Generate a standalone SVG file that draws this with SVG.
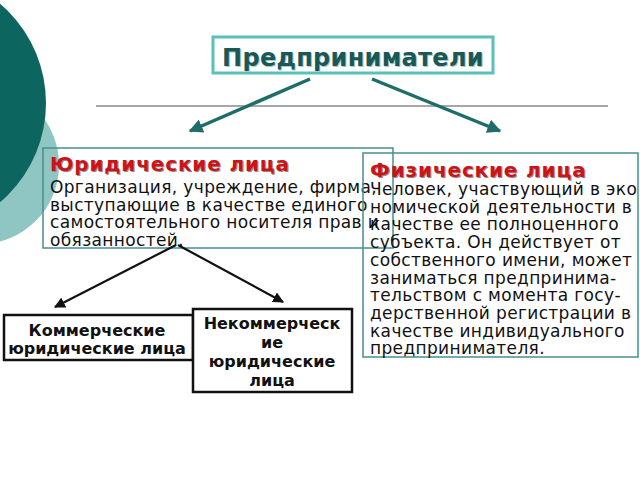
<svg xmlns="http://www.w3.org/2000/svg" width="640" height="480" viewBox="0 0 640 480">
<style>
.body{font-family:"DejaVu Sans",Verdana,sans-serif;font-size:17px;letter-spacing:0.35px;fill:#111}
.head{font-family:"DejaVu Sans",Verdana,sans-serif;font-size:20px;font-weight:bold;letter-spacing:0.85px;fill:#cc1418}
.headsh{font-family:"DejaVu Sans",Verdana,sans-serif;font-size:20px;font-weight:bold;letter-spacing:0.85px;fill:#9a8a8a}
.lbl{font-family:"DejaVu Sans",Verdana,sans-serif;font-size:16px;font-weight:bold;fill:#111;text-anchor:middle}
.tbox{fill:none;stroke:#4a8f8c;stroke-width:1.5}
.bbox{fill:#fff;stroke:#111;stroke-width:2.5}
</style>
<defs>
<marker id="ta" viewBox="0 0 10 10" refX="9" refY="5" markerWidth="4" markerHeight="4" orient="auto" markerUnits="strokeWidth"><path d="M0,0 L10,5 L0,10 z" fill="#1f6d69"/></marker>
<marker id="ba" viewBox="0 0 10 10" refX="9" refY="5" markerWidth="5" markerHeight="5" orient="auto" markerUnits="strokeWidth"><path d="M0,0 L10,5 L0,10 z" fill="#111"/></marker>
</defs>
<rect width="640" height="480" fill="#fff"/>
<g id="decor">
<circle cx="-20" cy="165" r="79" fill="#8fc6c3"/>
<circle cx="-84" cy="103" r="130" fill="#0d6560"/>
<line x1="96" y1="106" x2="608" y2="106" stroke="#8a8a8a" stroke-width="1.5"/>
</g>
<g id="title">
<rect x="213" y="37" width="280" height="36" fill="#fff" stroke="#5bbfba" stroke-width="3"/>
<text x="353" y="66" text-anchor="middle" font-family="DejaVu Sans,Verdana,sans-serif" font-size="24" font-weight="bold" letter-spacing="0.3" fill="#a9c8c6" transform="translate(1,1)">Предприниматели</text>
<text x="353" y="66" text-anchor="middle" font-family="DejaVu Sans,Verdana,sans-serif" font-size="24" font-weight="bold" letter-spacing="0.3" fill="#1a5856">Предприниматели</text>
</g>
<g id="legal">
<rect x="43" y="148" width="350" height="100" fill="#fff" class="tbox"/>
<text class="headsh" x="51" y="172">Юридические лица</text>
<text class="head" x="50" y="171">Юридические лица</text>
<text class="body" x="50" y="193">Организация, учреждение, фирма,</text>
<text class="body" x="50" y="210.5">выступающие в качестве единого</text>
<text class="body" x="50" y="228">самостоятельного носителя прав и</text>
<text class="body" x="50" y="245.5">обязанностей.</text>
</g>
<g id="natural">
<rect x="363" y="153" width="275" height="204" class="tbox"/>
<text class="headsh" x="371" y="178">Физические лица</text>
<text class="head" x="370" y="177">Физические лица</text>
<text class="body" x="370" y="195">Человек, участвующий в эко</text>
<text class="body" x="370" y="212.7">номической деятельности в</text>
<text class="body" x="370" y="230.4">качестве ее полноценного</text>
<text class="body" x="370" y="248.1">субъекта. Он действует от</text>
<text class="body" x="370" y="265.8">собственного имени, может</text>
<text class="body" x="370" y="283.5">заниматься предпринима-</text>
<text class="body" x="370" y="301.2">тельством с момента госу-</text>
<text class="body" x="370" y="318.9">дерственной регистрации в</text>
<text class="body" x="370" y="336.6">качестве индивидуального</text>
<text class="body" x="370" y="354.3">предпринимателя.</text>
</g>
<g id="commercial">
<rect x="4" y="315" width="189" height="45" class="bbox"/>
<text class="lbl" x="97" y="336">Коммерческие</text>
<text class="lbl" x="97" y="354">юридические лица</text>
</g>
<g id="noncommercial">
<rect x="193" y="309" width="159" height="83" class="bbox"/>
<text class="lbl" x="272" y="329">Некоммерческ</text>
<text class="lbl" x="272" y="348">ие</text>
<text class="lbl" x="272" y="367">юридические</text>
<text class="lbl" x="272" y="386">лица</text>
</g>
<g id="connectors">
<line x1="310" y1="79" x2="190" y2="131" stroke="#1f6d69" stroke-width="3.5" marker-end="url(#ta)"/>
<line x1="372" y1="79" x2="500" y2="131" stroke="#1f6d69" stroke-width="3.5" marker-end="url(#ta)"/>
<line x1="176" y1="245" x2="55" y2="307" stroke="#111" stroke-width="2.2" marker-end="url(#ba)"/>
<line x1="178" y1="245" x2="283" y2="302" stroke="#111" stroke-width="2.2" marker-end="url(#ba)"/>
</g>
</svg>
